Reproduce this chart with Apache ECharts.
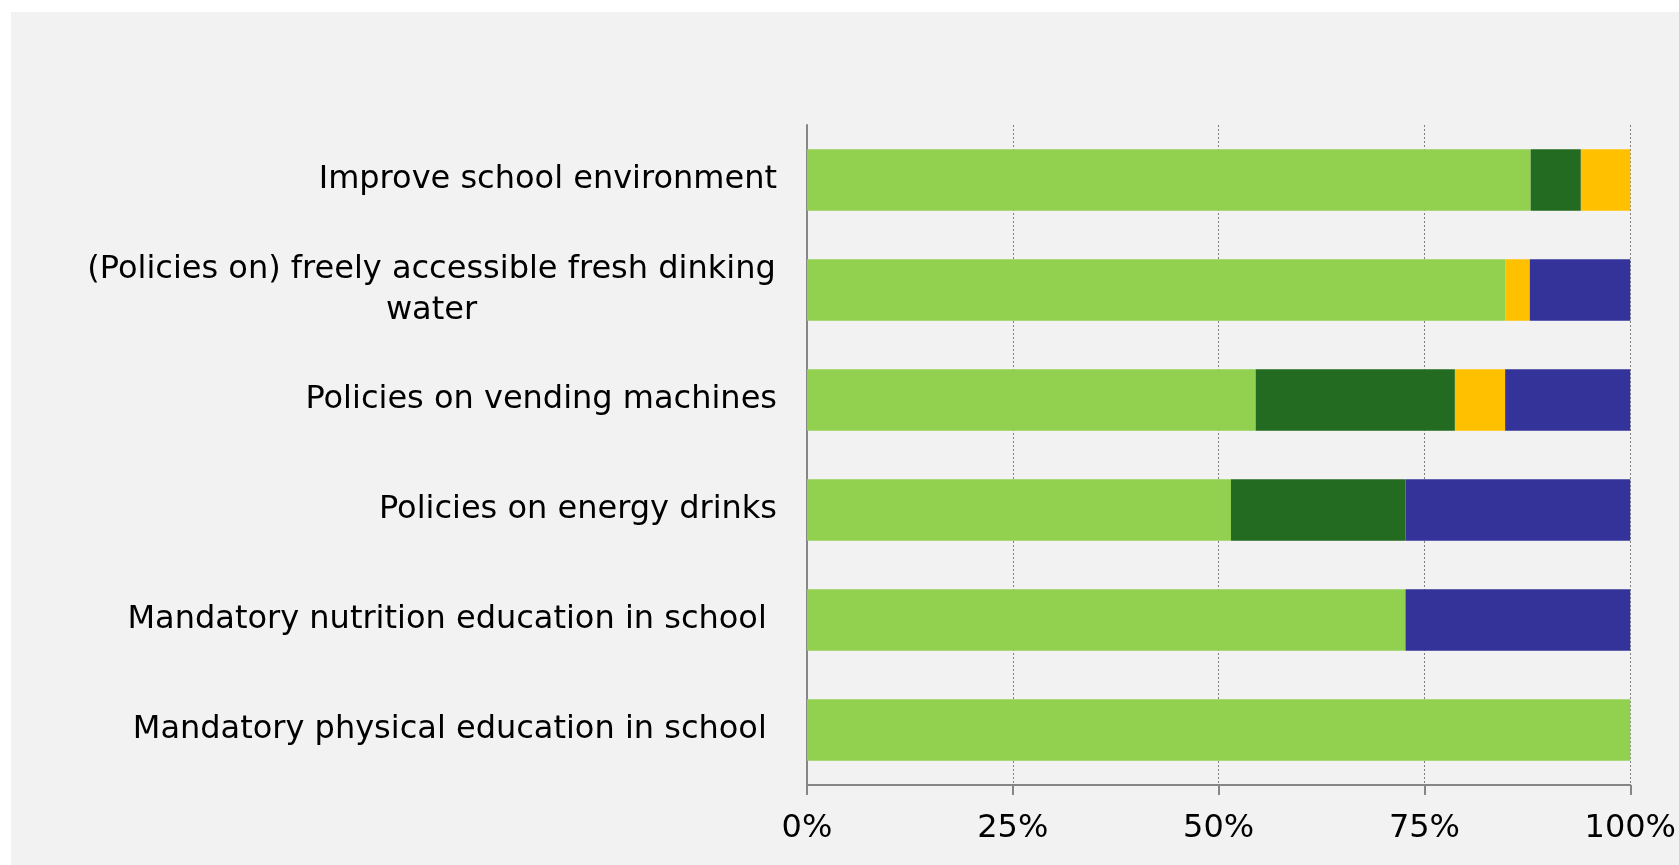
<!DOCTYPE html>
<html>
<head>
<meta charset="utf-8">
<script src="https://cdn.jsdelivr.net/npm/echarts@6/dist/echarts.min.js"></script>
<style>
  html, body { margin: 0; padding: 0; background: #ffffff; }
  #wrap { position: absolute; left: 11px; top: 12px; width: 1668px; height: 853px; background: #f2f2f2; }
  #chart { position: absolute; left: -11px; top: -12px; width: 1679px; height: 865px; }
</style>
</head>
<body>
<div id="wrap"><div id="chart"></div></div>
<script>
const categories = [
  'Improve school environment',
  '(Policies on) freely accessible fresh dinking\nwater',
  'Policies on vending machines',
  'Policies on energy drinks',
  'Mandatory nutrition education in school ',
  'Mandatory physical education in school '
];
const seriesLightGreen = [87.9, 84.8, 54.5, 51.5, 72.7, 100];
const seriesDarkGreen  = [6.1, 0, 24.2, 21.2, 0, 0];
const seriesYellow     = [6.0, 3.0, 6.1, 0, 0, 0];
const seriesBlue       = [0, 12.2, 15.2, 27.3, 27.3, 0];
const xTicks = [0, 25, 50, 75, 100];

const FONT = 'DejaVu Sans, Verdana, sans-serif';
const FS = 32;

function measure(text) {
  const c = document.createElement('canvas').getContext('2d');
  c.font = FS + 'px ' + FONT;
  return Math.ceil(c.measureText(text).width) + 2;
}
let wrapW = 0;
categories.forEach(function (c) {
  if (c.indexOf('\n') >= 0) {
    c.split('\n').forEach(function (l) { wrapW = Math.max(wrapW, measure(l)); });
  }
});

const chart = echarts.init(document.getElementById('chart'), null, { renderer: 'canvas' });
function bar(name, data, color) {
  return {
    name: name, type: 'bar', stack: 'total', data: data,
    barCategoryGap: '44%',
    itemStyle: { color: color },
    emphasis: { disabled: true },
    animation: false
  };
}
chart.setOption({
  backgroundColor: 'transparent',
  animation: false,
  textStyle: { fontFamily: FONT },
  grid: { left: 807, right: 43, top: 125, bottom: 80, containLabel: false },
  xAxis: {
    type: 'value', min: xTicks[0], max: xTicks[xTicks.length - 1], interval: xTicks[1] - xTicks[0],
    axisLine: { show: true, lineStyle: { color: '#868686', width: 2 } },
    axisTick: { show: true, length: 10, lineStyle: { color: '#868686', width: 2 } },
    axisLabel: { formatter: '{value}%', color: '#000', fontSize: FS, fontFamily: FONT, margin: 28 },
    splitLine: { show: true, lineStyle: { color: '#808080', width: 1, type: [2, 2] } }
  },
  yAxis: {
    type: 'category', data: categories, inverse: true,
    axisLine: { show: true, lineStyle: { color: '#868686', width: 2 } },
    axisTick: { show: false },
    axisLabel: {
      color: '#000', fontSize: FS, fontFamily: FONT, margin: 30, lineHeight: 41,
      formatter: function (v) {
        if (v.indexOf('\n') >= 0) return '{c|' + v + '}';
        return v;
      },
      rich: { c: { width: wrapW, align: 'center', fontSize: FS, fontFamily: FONT, lineHeight: 41, color: '#000' } }
    },
    splitLine: { show: false }
  },
  series: [
    bar('s1', seriesLightGreen, '#92D050'),
    bar('s2', seriesDarkGreen, '#236B21'),
    bar('s3', seriesYellow, '#FFC000'),
    bar('s4', seriesBlue, '#333399')
  ]
});
</script>
</body>
</html>
